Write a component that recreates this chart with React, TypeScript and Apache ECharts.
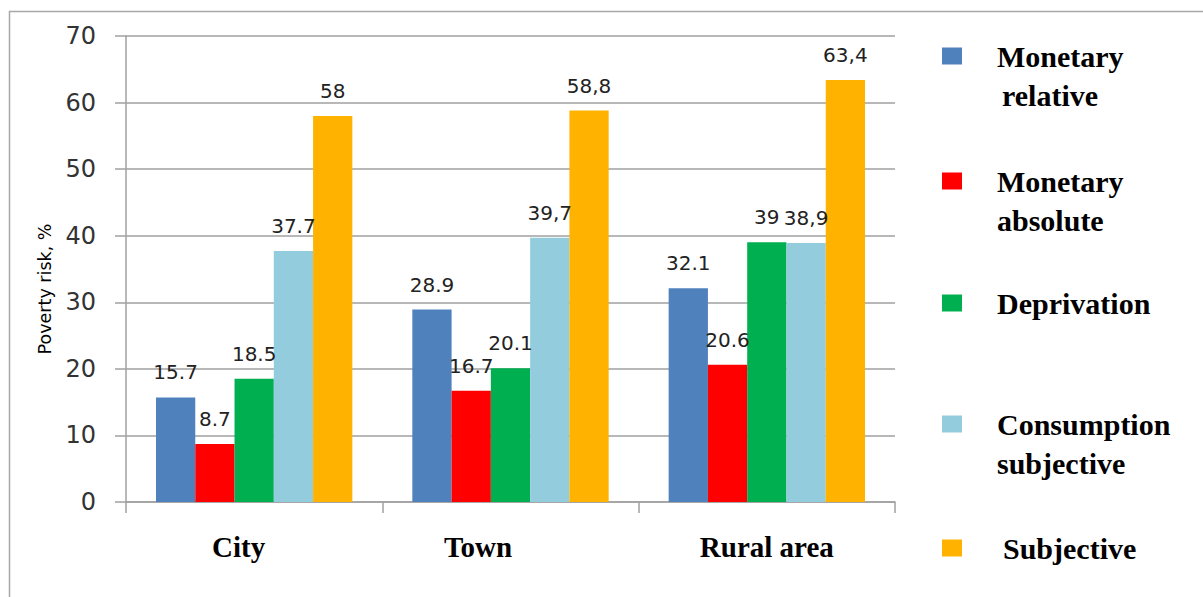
import React, { useEffect, useRef } from "react";
import * as echarts from "echarts";

// Settlement types on the category axis
const categories = ["City", "Town", "Rural area"];

// Poverty-risk measures (series names, also used for the legend)
const seriesNames = [
  "Monetary relative",
  "Monetary absolute",
  "Deprivation",
  "Consumption subjective",
  "Subjective",
];

// Value labels per measure, written as they appear above the bars (%)
const monetaryRelative = ["15.7", "28.9", "32.1"];
const monetaryAbsolute = ["8.7", "16.7", "20.6"];
const deprivation = ["18.5", "20.1", "39"];
const consumptionSubjective = ["37.7", "39,7", "38,9"];
const subjective = ["58", "58,8", "63,4"];

const seriesLabels = [
  monetaryRelative,
  monetaryAbsolute,
  deprivation,
  consumptionSubjective,
  subjective,
];

const seriesColors = ["#4F81BD", "#FF0000", "#00B050", "#93CDDD", "#FFB300"];

// Value axis range
const yMin = 0;
const yMax = 70;
const yStep = 10;

// Layout constants
const AXIS_GRAY = "#a0a0a0";
const SERIF = "Liberation Serif";
const SANS = "DejaVu Sans";
const categoryLabelShift = [31, 65, 0]; // right padding that nudges each category label left
const legendCenters = [56, 181, 303, 424, 548];
const legendIndent = [[0, 5], [0, 0], [0], [0, 0], [6]];

const toValue = (s: string) => parseFloat(s.replace(",", "."));

export default function App() {
  const ref = useRef<HTMLDivElement>(null);

  useEffect(() => {
    if (!ref.current) return;
    const chart = echarts.init(ref.current, undefined, { renderer: "svg" });

    const rich: Record<string, any> = {};
    categories.forEach((_, i) => {
      rich["c" + i] = {
        fontFamily: SERIF,
        fontWeight: "bold",
        fontSize: 29,
        lineHeight: 29,
        color: "#000",
        padding: [0, categoryLabelShift[i], 0, 0],
      };
    });

    const legendGraphics: any[] = [];
    seriesNames.forEach((name, i) => {
      const cy = legendCenters[i];
      legendGraphics.push({
        type: "rect",
        shape: { x: 942, y: cy - 8.5, width: 20, height: 17 },
        style: { fill: seriesColors[i] },
      });
      name.split(" ").forEach((line, j) => {
        legendGraphics.push({
          type: "text",
          x: 997 + legendIndent[i][j],
          y: cy + j * 39,
          style: {
            text: line,
            fontFamily: SERIF,
            fontWeight: "bold",
            fontSize: 30,
            fill: "#000",
            verticalAlign: "middle",
            align: "left",
          },
        });
      });
    });

    chart.setOption({
      animation: false,
      backgroundColor: "#fff",
      grid: { left: 126, top: 36, right: 308, bottom: 95, containLabel: false },
      xAxis: {
        type: "category",
        data: categories,
        axisLine: { lineStyle: { color: AXIS_GRAY, width: 1.5 } },
        axisTick: { show: true, length: 11, lineStyle: { color: AXIS_GRAY, width: 1.5 } },
        axisLabel: {
          margin: 30,
          fontFamily: SERIF,
          fontWeight: "bold",
          fontSize: 29,
          formatter: (v: string, idx: number) => `{c${idx}|${v}}`,
          rich,
        },
        splitLine: { show: false },
      },
      yAxis: {
        type: "value",
        min: yMin,
        max: yMax,
        interval: yStep,
        name: "Poverty risk, %",
        nameLocation: "middle",
        nameRotate: 90,
        nameGap: 72,
        nameTextStyle: {
          fontFamily: SANS,
          fontSize: 17.5,
          color: "#000",
          padding: [0, 40, 0, 0],
        },
        axisLine: { show: true, lineStyle: { color: AXIS_GRAY, width: 1.5 } },
        axisTick: { show: true, length: 11, lineStyle: { color: AXIS_GRAY, width: 1.5 } },
        axisLabel: {
          margin: 30,
          fontFamily: SANS,
          fontSize: 24,
          color: "#333",
        },
        splitLine: { show: true, lineStyle: { color: AXIS_GRAY, width: 1.5 } },
      },
      series: seriesLabels.map((labels, i) => ({
        type: "bar",
        name: seriesNames[i],
        data: labels.map((t) => toValue(t)),
        barGap: "0%",
        barCategoryGap: "23.4%",
        itemStyle: { color: seriesColors[i] },
        label: {
          show: true,
          position: "top",
          distance: 15,
          formatter: (p: any) => labels[p.dataIndex],
          fontFamily: SANS,
          fontSize: 20,
          color: "#222",
        },
      })),
      graphic: [
        {
          type: "rect",
          shape: { x: 9.5, y: 11.5, width: 1400, height: 800 },
          style: { fill: "none", stroke: "#a8a8a8", lineWidth: 1.5 },
          silent: true,
        },
        ...legendGraphics,
      ],
    });

    return () => chart.dispose();
  }, []);

  return (
    <div
      ref={ref}
      style={{ position: "absolute", left: 0, top: 0, width: 1203, height: 597 }}
    />
  );
}
